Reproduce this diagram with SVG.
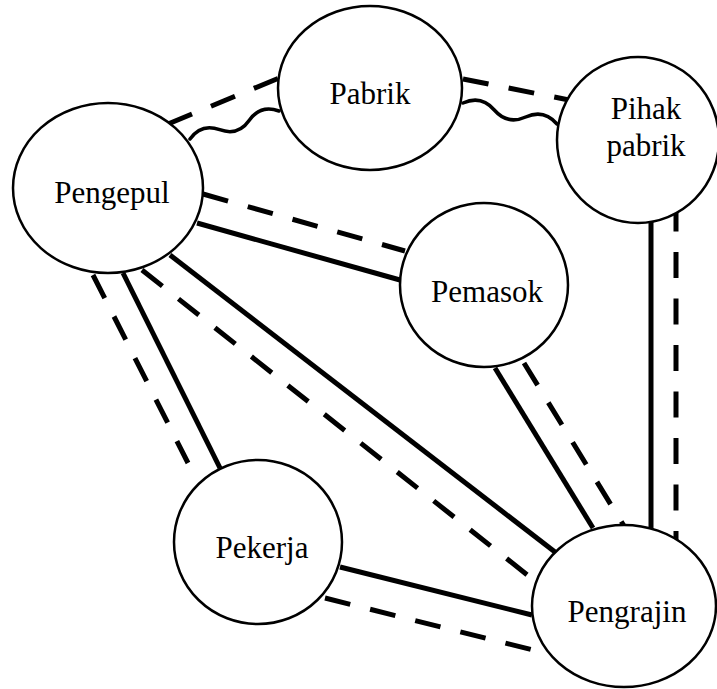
<svg xmlns="http://www.w3.org/2000/svg" width="717" height="689" viewBox="0 0 717 689">
<style>
.node{fill:#fff;stroke:#000;stroke-width:2.5}
.lbl{font-size:31px;fill:#000;text-anchor:middle}
.solid{stroke:#000;stroke-width:5;fill:none}
.dash{stroke:#000;stroke-width:5;fill:none;stroke-dasharray:26 20.5}
.wave{stroke:#000;stroke-width:3.5;fill:none;stroke-linecap:round}
</style>
<rect width="717" height="689" fill="#fff"/>
<g id="connectors">
<line class="dash" x1="168" y1="124" x2="279" y2="78"/>
<path class="wave" d="M190,139 Q201.2,122.9 219.7,129.7 Q238.1,136.4 249.3,120.3 Q260.6,104.3 279,111"/>
<line class="dash" x1="463" y1="79" x2="569" y2="100"/>
<path class="wave" d="M463,103 Q481.3,94.8 494.3,110 Q507.4,125.2 525.7,117 Q543.9,108.8 557,124"/>
<line class="dash" x1="203" y1="194" x2="405" y2="251"/>
<line class="solid" x1="197" y1="223" x2="400" y2="280"/>
<line class="solid" x1="170" y1="255" x2="555" y2="552"/>
<line class="dash" x1="142" y1="270" x2="540" y2="585"/>
<line class="solid" x1="123" y1="273" x2="220" y2="468"/>
<line class="dash" x1="93" y1="275" x2="188" y2="463"/>
<line class="solid" x1="340" y1="567" x2="532" y2="615"/>
<line class="dash" x1="325" y1="598" x2="545" y2="653"/>
<line class="solid" x1="495" y1="368" x2="593" y2="528"/>
<line class="dash" x1="524" y1="363" x2="624" y2="526"/>
<line class="solid" x1="651" y1="220" x2="651" y2="530"/>
<line class="dash" x1="676" y1="205.5" x2="676" y2="545"/>
</g>
<g id="pabrik">
<ellipse class="node" cx="370" cy="88" rx="92" ry="82"/>
<text class="lbl" font-family="Liberation Serif, Times New Roman, DejaVu Serif, serif" x="370" y="104">Pabrik</text>
</g>
<g id="pihak-pabrik">
<ellipse class="node" cx="638" cy="140" rx="81" ry="83"/>
<text class="lbl" font-family="Liberation Serif, Times New Roman, DejaVu Serif, serif" x="646" y="119">Pihak</text>
<text class="lbl" font-family="Liberation Serif, Times New Roman, DejaVu Serif, serif" x="646" y="156">pabrik</text>
</g>
<g id="pengepul">
<ellipse class="node" cx="108" cy="188" rx="95" ry="85"/>
<text class="lbl" font-family="Liberation Serif, Times New Roman, DejaVu Serif, serif" x="112" y="203">Pengepul</text>
</g>
<g id="pemasok">
<ellipse class="node" cx="484" cy="285" rx="84" ry="82"/>
<text class="lbl" font-family="Liberation Serif, Times New Roman, DejaVu Serif, serif" x="487" y="302">Pemasok</text>
</g>
<g id="pekerja">
<ellipse class="node" cx="258" cy="542" rx="84" ry="82"/>
<text class="lbl" font-family="Liberation Serif, Times New Roman, DejaVu Serif, serif" x="262" y="558">Pekerja</text>
</g>
<g id="pengrajin">
<ellipse class="node" cx="624" cy="606" rx="92" ry="81"/>
<text class="lbl" font-family="Liberation Serif, Times New Roman, DejaVu Serif, serif" x="627" y="622">Pengrajin</text>
</g>
</svg>
